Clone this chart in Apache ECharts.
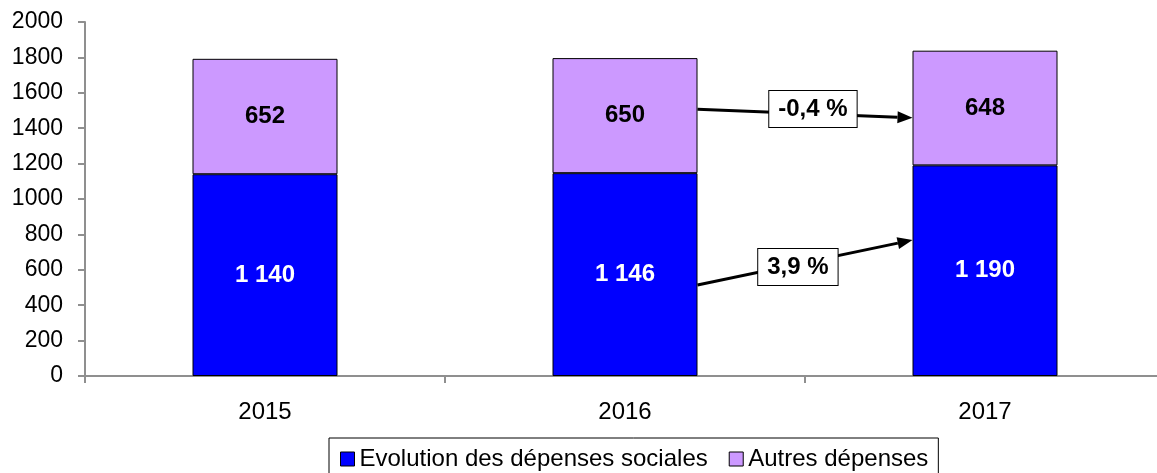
<!DOCTYPE html>
<html>
<head>
<meta charset="utf-8">
<script src="https://cdn.jsdelivr.net/npm/echarts@6/dist/echarts.min.js"></script>
<style>
html,body{margin:0;padding:0;background:#fff;overflow:hidden;width:1157px;height:473px;}
#chart{width:1165px;height:473px;}
</style>
</head>
<body>
<div id="chart"></div>
<script>
var categories = ['2015', '2016', '2017'];
var depensesSociales = [1140, 1146, 1190];
var autresDepenses = [652, 650, 648];
var seriesNames = ['Evolution des dépenses sociales', 'Autres dépenses'];
var yTicks = [0, 200, 400, 600, 800, 1000, 1200, 1400, 1600, 1800, 2000];
// arrow annotations: from category (right edge of bar) to next category (left edge of bar)
var arrowLabels = ['-0,4 %', '3,9 %'];
var arrowFrom = [1507, 514];
var arrowTo = [1459, 768];
var arrowLabelValue = [1508, 616];
var arrowLabelFrac = [0.537, 0.467];

var FONT = 'Liberation Sans, Arial, sans-serif';
var BAR_W = 145;

function fmt(v) { return String(v).replace(/\B(?=(\d{3})+(?!\d))/g, ' '); }

var chart = echarts.init(document.getElementById('chart'), null, {renderer: 'canvas'});
chart.setOption({
  animation: false,
  backgroundColor: '#fff',
  grid: {left: 85, right: 0, top: 22, bottom: 97, containLabel: false},
  legend: {
    left: 329, top: 438,
    padding: [9, 10, 10, 11],
    borderColor: '#000', borderWidth: 1, backgroundColor: '#fff',
    itemWidth: 14, itemHeight: 14, itemGap: 21,
    icon: 'rect',
    itemStyle: {borderColor: '#000', borderWidth: 1},
    textStyle: {fontFamily: FONT, fontSize: 24, color: '#000'},
    data: seriesNames
  },
  xAxis: {
    type: 'category', data: categories,
    axisLine: {lineStyle: {color: '#8f8f8f', width: 2}},
    axisTick: {show: true, length: 7, lineStyle: {color: '#8f8f8f', width: 2}},
    axisLabel: {fontFamily: FONT, fontSize: 24, color: '#000', margin: 24}
  },
  yAxis: {
    type: 'value', min: yTicks[0], max: yTicks[yTicks.length - 1], interval: yTicks[1] - yTicks[0],
    axisLine: {show: true, lineStyle: {color: '#8f8f8f', width: 2}},
    axisTick: {show: true, length: 7, lineStyle: {color: '#8f8f8f', width: 2}},
    splitLine: {show: false},
    axisLabel: {fontFamily: FONT, fontSize: 23, color: '#000', margin: 22,
      formatter: function(v){ return String(v); }}
  },
  series: [
    {
      name: seriesNames[0], type: 'bar', stack: 'total', data: depensesSociales, barWidth: BAR_W,
      itemStyle: {color: '#0000ff', borderColor: '#000', borderWidth: 1},
      label: {show: true, position: 'inside', formatter: function(p){return fmt(p.value);},
        fontFamily: FONT, fontSize: 24, fontWeight: 'bold', color: '#fff'}
    },
    {
      name: seriesNames[1], type: 'bar', stack: 'total', data: autresDepenses, barWidth: BAR_W,
      itemStyle: {color: '#cc99ff', borderColor: '#000', borderWidth: 1},
      label: {show: true, position: 'inside', formatter: function(p){return fmt(p.value);},
        fontFamily: FONT, fontSize: 24, fontWeight: 'bold', color: '#000'}
    }
  ]
});

function px(catIdx, val) { return chart.convertToPixel({xAxisIndex: 0, yAxisIndex: 0}, [catIdx, val]); }

var graphics = [];
for (var i = 0; i < arrowLabels.length; i++) {
  var a = px(1, arrowFrom[i]);
  var b = px(2, arrowTo[i]);
  var x1 = a[0] + BAR_W / 2, y1 = a[1];
  var x2 = b[0] - BAR_W / 2, y2 = b[1];
  var ang = Math.atan2(y2 - y1, x2 - x1);
  var hl = 15, hw = 6;
  var bx = x2 - hl * Math.cos(ang), by = y2 - hl * Math.sin(ang);
  graphics.push({
    type: 'line', z: 100,
    shape: {x1: x1, y1: y1, x2: bx, y2: by},
    style: {stroke: '#000', lineWidth: 3}
  });
  graphics.push({
    type: 'polygon', z: 100,
    shape: {points: [[x2, y2],
      [bx + hw * Math.sin(ang), by - hw * Math.cos(ang)],
      [bx - hw * Math.sin(ang), by + hw * Math.cos(ang)]]},
    style: {fill: '#000'}
  });
  var c = px(1, arrowLabelValue[i]);
  var cx = x1 + (x2 - x1) * arrowLabelFrac[i];
  graphics.push({
    type: 'text', z: 110,
    x: cx, y: c[1],
    style: {
      text: arrowLabels[i], fontFamily: FONT, fontSize: 24, fontWeight: 'bold', fill: '#000',
      align: 'center', verticalAlign: 'middle',
      backgroundColor: '#fff', borderColor: '#000', borderWidth: 1,
      padding: [6, 9, 6, 9]
    }
  });
}
chart.setOption({graphic: graphics});
</script>
</body>
</html>
